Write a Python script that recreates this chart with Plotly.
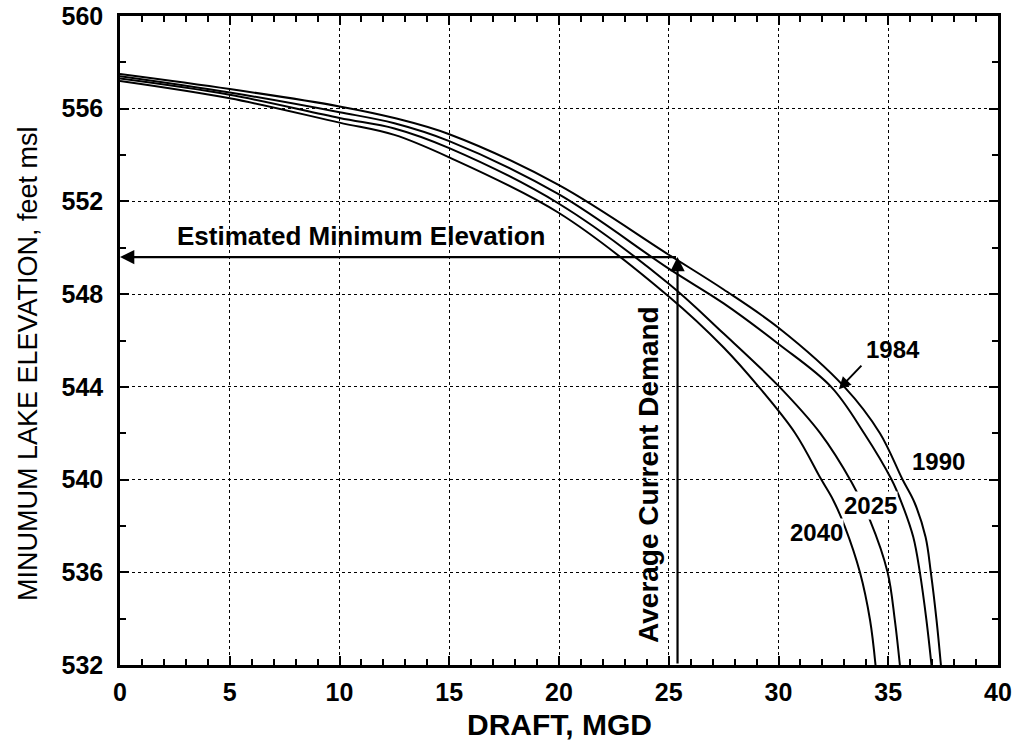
import plotly.graph_objects as go

# Curves: (draft MGD, minimum lake elevation ft msl)
c1990_x = [0, 5, 10, 12.5, 15, 20, 25, 27.5, 30, 33.0, 34.62, 35.65, 36.2, 36.7, 36.94, 37.2, 37.4]
c1990_y = [557.5, 556.85, 556.1, 555.6, 554.9, 552.7, 549.7, 548.2, 546.55, 544, 542, 540, 539.0, 537.52, 536, 533.94, 532]

c1984_x = [0, 5, 10, 12.5, 15, 20, 25, 27.5, 30, 32.4, 33.9, 35.15, 35.6, 36.14, 36.44, 36.74, 36.97]
c1984_y = [557.4, 556.7, 555.85, 555.37, 554.6, 552.3, 549.1, 547.6, 545.85, 544, 542, 540, 539.02, 537.52, 536, 533.94, 532]

c2025_x = [0, 5, 10, 12.5, 15, 20, 25, 27.5, 30, 31.9, 33.33, 34.17, 34.97, 35.3, 35.53]
c2025_y = [557.3, 556.6, 555.6, 555.15, 554.3, 551.9, 548.45, 546.3, 544.04, 542, 539.88, 538.24, 536, 533.94, 532]

c2040_x = [0, 5, 10, 12.5, 15, 20, 25, 27.5, 29.1, 30.76, 31.95, 32.5, 33.03, 33.71, 34.17, 34.42]
c2040_y = [557.2, 556.45, 555.4, 554.87, 553.9, 551.5, 547.9, 545.7, 544, 542, 540, 539.1, 537.95, 536, 533.94, 532]

demand_x = 25.4
min_elev = 549.6

x_ticks = [0, 5, 10, 15, 20, 25, 30, 35, 40]
y_ticks = [532, 536, 540, 544, 548, 552, 556, 560]

FONT = "Liberation Sans, Arial, sans-serif"

fig = go.Figure()
for xs, ys in [(c1990_x, c1990_y), (c1984_x, c1984_y), (c2025_x, c2025_y), (c2040_x, c2040_y)]:
    fig.add_trace(go.Scatter(x=xs, y=ys, mode="lines",
                             line=dict(color="black", width=2, shape="spline", smoothing=1.0),
                             showlegend=False, hoverinfo="skip"))

ann = []
# Average current demand arrow (vertical, pointing up)
ann.append(dict(x=demand_x, y=min_elev, ax=demand_x, ay=532, xref="x", yref="y", axref="x", ayref="y",
                showarrow=True, arrowhead=2, arrowsize=1.3, arrowwidth=2.2, arrowcolor="black", text=""))
# Estimated minimum elevation arrow (horizontal, pointing left)
ann.append(dict(x=0, y=min_elev, ax=demand_x, ay=min_elev, xref="x", yref="y", axref="x", ayref="y",
                showarrow=True, arrowhead=2, arrowsize=1.3, arrowwidth=2.2, arrowcolor="black", text=""))
# 1984 pointer
ann.append(dict(x=32.75, y=543.9, ax=24, ay=-25, xref="x", yref="y",
                showarrow=True, arrowhead=2, arrowsize=1.2, arrowwidth=2, arrowcolor="black", text=""))

lbl = dict(family=FONT, size=24, color="black", weight="bold")
ann.append(dict(x=11.0, y=550.5, xref="x", yref="y", text="Estimated Minimum Elevation",
                showarrow=False, font=dict(family=FONT, size=26, color="black", weight="bold")))
ann.append(dict(x=24.1, y=540.2, xref="x", yref="y", text="Average Current Demand", textangle=-90,
                showarrow=False, font=dict(family=FONT, size=28, color="black", weight="bold")))
ann.append(dict(x=35.2, y=545.6, xref="x", yref="y", text="1984", showarrow=False, font=lbl))
ann.append(dict(x=37.3, y=540.77, xref="x", yref="y", text="1990", showarrow=False, font=lbl,
                bgcolor="white", borderpad=0))
ann.append(dict(x=34.2, y=538.88, xref="x", yref="y", text="2025", showarrow=False, font=lbl,
                bgcolor="white", borderpad=0))
ann.append(dict(x=31.75, y=537.72, xref="x", yref="y", text="2040", showarrow=False, font=lbl,
                bgcolor="white", borderpad=0))
# Axis titles
ann.append(dict(x=0.5, y=-0.092, xref="paper", yref="paper", yanchor="middle", text="DRAFT, MGD",
                showarrow=False, font=dict(family=FONT, size=30, color="black", weight="bold")))
ann.append(dict(x=-0.105, y=0.465, xref="paper", yref="paper", xanchor="center",
                text="MINUMUM LAKE ELEVATION, feet msl", textangle=-90,
                showarrow=False, font=dict(family=FONT, size=27, color="black")))

axis_common = dict(showline=True, linecolor="black", linewidth=2.5, mirror="ticks",
                   ticks="inside", ticklen=9, tickwidth=2, tickcolor="black",
                   showgrid=True, gridcolor="black", gridwidth=1, griddash="dot",
                   zeroline=False, automargin=False, ticklabeloverflow="allow",
                   tickfont=dict(family=FONT, size=25, color="black", weight="bold"))

fig.update_layout(
    width=1018, height=750,
    margin=dict(l=120, r=20, t=16, b=85),
    plot_bgcolor="white", paper_bgcolor="white",
    annotations=ann,
    xaxis=dict(range=[0, 40], tickvals=x_ticks, **axis_common, ticklabelstandoff=3,
               minor=dict(dtick=1, ticks="inside", ticklen=6, tickwidth=2, tickcolor="black", showgrid=False)),
    yaxis=dict(range=[532, 560], tickvals=y_ticks, **axis_common, ticklabelstandoff=9,
               minor=dict(dtick=2, tick0=532, ticks="inside", ticklen=6, tickwidth=2, tickcolor="black",
                          showgrid=False)),
)

fig.write_html("out.html", config={"displayModeBar": False},
               post_script="document.body.style.margin='0px';")
